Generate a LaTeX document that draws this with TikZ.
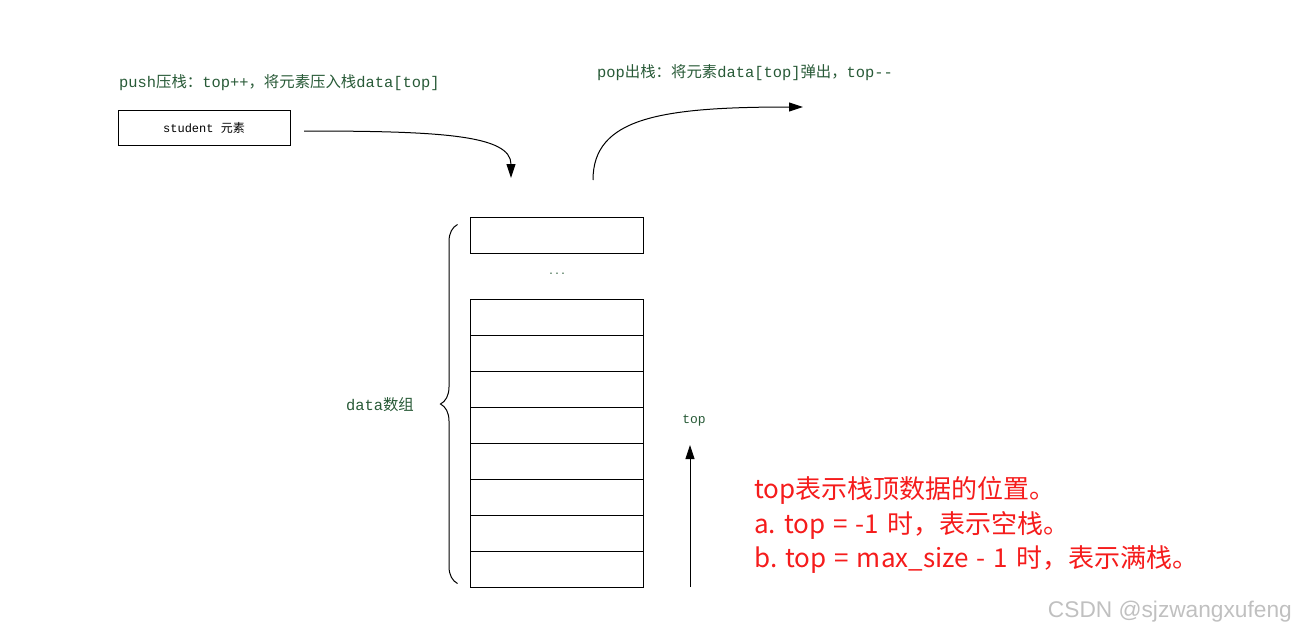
\documentclass[tikz,border=0pt]{standalone}
\usepackage{fontspec}
\usetikzlibrary{arrows.meta,decorations.pathreplacing}
\newfontfamily\monofont{Liberation Mono}
\newfontfamily\cjk{Noto Sans CJK SC}
\newfontfamily\wmfont{Liberation Sans}
\newcommand{\C}[1]{{\cjk #1}}
\newcommand{\ws}{\hspace{8pt}}
\definecolor{lblgreen}{RGB}{40,90,55}
\definecolor{notered}{RGB}{245,28,28}
\definecolor{wmgray}{RGB}{192,192,192}
\begin{document}
\begin{tikzpicture}[x=1pt,y=-1pt,
  greentext/.style={text=lblgreen, inner sep=0pt, font=\monofont\fontsize{15.4}{18}\selectfont},
  cell/.style={draw=black, line width=1pt, minimum width=173pt, minimum height=36pt, inner sep=0pt},
  conn/.style={draw=black, line width=1pt, -{Triangle[length=14pt,width=9pt]}},
  bracestyle/.style={draw=black, line width=1pt, decorate, decoration={brace, amplitude=17pt}}
]
\useasboundingbox (0,0) rectangle (1296,635);
% labels
\node[greentext, anchor=west] (pushlbl) at (119,83) {push\C{压栈：}top++\C{，将元素压入栈}data[top]};
\node[greentext, anchor=west] (poplbl) at (597,73) {pop\C{出栈：将元素}data[top]\C{弹出，}top-\kern0pt-};
% student box
\node[draw=black, line width=1pt, minimum width=172pt, minimum height=35pt, inner sep=0pt,
      font=\monofont\fontsize{12}{14}\selectfont] (student) at (204,127.5) {student \C{元素}};
% stack
\node[cell] (topcell) at (556.5,235) {};
\node[greentext, font=\monofont\fontsize{10}{12}\selectfont] (dots) at (557,274) {...};
\foreach \i in {1,...,8}{
  \node[cell] (c\i) at (556.5,{317+36*(\i-1)}) {};
}
% brace
\draw[bracestyle] ([xshift=-12pt,yshift=4pt]c8.south west) -- ([xshift=-12pt,yshift=-8pt]topcell.north west);
\node[greentext] (datalbl) at (380,405) {data\C{数组}};
% push arrow
\coordinate (pushstart) at (304,131);
\coordinate (pushend) at (511,178);
\draw[conn] (pushstart) .. controls (440,131) and (511,135) .. (pushend);
% pop arrow
\coordinate (popstart) at (593,180);
\coordinate (popend) at (803,107);
\draw[conn] (popstart) .. controls (593,118) and (660,107) .. (popend);
% top arrow
\coordinate (topbase) at (690,587);
\node[greentext, font=\monofont\fontsize{13}{15}\selectfont] (toplbl) at (694,421) {top};
\coordinate (toptip) at (690,445);
\draw[conn, line width=0.9pt] (topbase) -- (toptip);
% red note
\node[anchor=north west, inner sep=0pt, align=left, text=notered,
      font=\cjk\fontsize{26}{34.5}\selectfont] (note) at (754,476.5)
  {top表示栈顶数据的位置。\\a.\ws{}top\ws{}=\ws{}-1\ws{}时，表示空栈。\\b.\ws{}top\ws{}=\ws{}max\_size\ws{}-\ws{}1\ws{}时，表示满栈。};
% watermark
\node[anchor=east, inner sep=0pt, text=wmgray, font=\wmfont\fontsize{22.7}{24}\selectfont] (wm) at (1292,612) {CSDN @sjzwangxufeng};
\end{tikzpicture}
\end{document}
